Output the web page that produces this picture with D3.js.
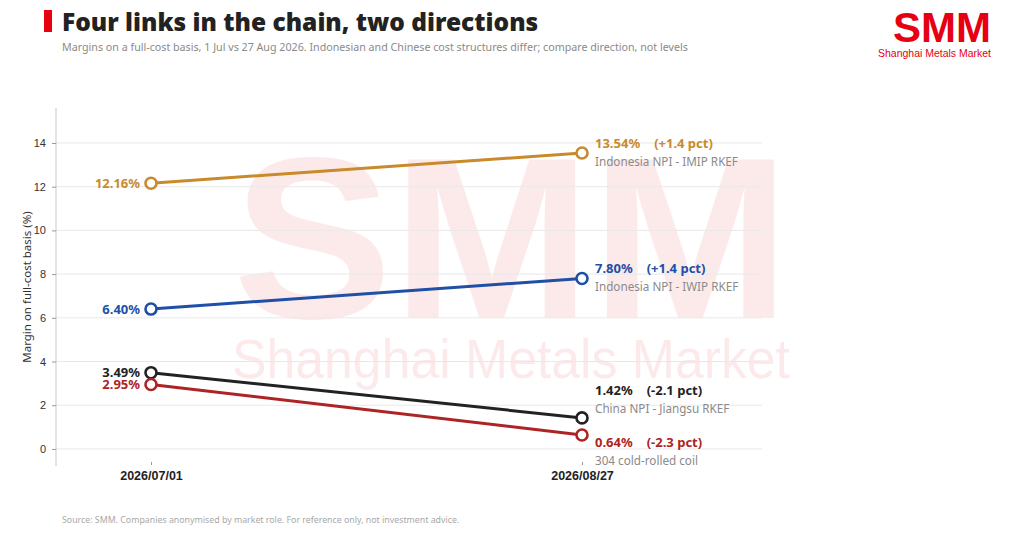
<!DOCTYPE html>
<html>
<head>
<meta charset="utf-8">
<script src="https://cdn.jsdelivr.net/npm/d3@7"></script>
<style>
  body { margin: 0; background: #fff; }
  svg { display: block; font-family: "Noto Sans", "DejaVu Sans", sans-serif; }
</style>
</head>
<body>
<svg id="drawing_region"></svg>
<script>
// chart data
var dates = ["2026/07/01", "2026/08/27"];
var seriesNames = ["Indonesia NPI - IMIP RKEF", "Indonesia NPI - IWIP RKEF", "China NPI - Jiangsu RKEF", "304 cold-rolled coil"];
var startValues = [12.16, 6.40, 3.49, 2.95];
var endValues = [13.54, 7.80, 1.42, 0.64];
var changeLabels = ["+1.4 pct", "+1.4 pct", "-2.1 pct", "-2.3 pct"];
var yTicks = [0, 2, 4, 6, 8, 10, 12, 14];
var colors = ["#c98a2b", "#1f4fa6", "#222222", "#ad2424"];

var width = 1024, height = 542;
var margin = { top: 108, right: 262, bottom: 76, left: 56 };

var svg = d3.select("#drawing_region")
    .attr("width", width)
    .attr("height", height);

// watermark
var wm = svg.append("g").attr("fill", "#e60012").attr("opacity", 0.08);
wm.append("text")
    .attr("x", 233).attr("y", 318)
    .attr("textLength", 557).attr("lengthAdjust", "spacingAndGlyphs")
    .style("font-family", "'Liberation Sans', Arial, sans-serif")
    .style("font-weight", 700)
    .style("font-size", "230px")
    .text("SMM");
wm.append("text")
    .attr("x", 232).attr("y", 378)
    .attr("textLength", 558).attr("lengthAdjust", "spacingAndGlyphs")
    .style("font-family", "'Liberation Sans', Arial, sans-serif")
    .style("font-size", "56px")
    .text("Shanghai Metals Market");

// header
svg.append("rect").attr("x", 44).attr("y", 10).attr("width", 8).attr("height", 22).attr("fill", "#e60012");
svg.append("text")
    .attr("x", 62).attr("y", 31)
    .style("font-size", "24.5px").style("font-weight", 900).attr("fill", "#222")
    .text("Four links in the chain, two directions");
svg.append("text")
    .attr("x", 62).attr("y", 51)
    .style("font-size", "10.7px").attr("fill", "#8a8a8a")
    .text("Margins on a full-cost basis, 1 Jul vs 27 Aug 2026. Indonesian and Chinese cost structures differ; compare direction, not levels");

// logo
svg.append("text")
    .attr("x", 893).attr("y", 42)
    .attr("textLength", 98).attr("lengthAdjust", "spacingAndGlyphs")
    .style("font-family", "'Liberation Sans', Arial, sans-serif")
    .style("font-weight", 700)
    .style("font-size", "42px").attr("fill", "#e60012")
    .text("SMM");
svg.append("text")
    .attr("x", 878).attr("y", 57)
    .attr("textLength", 113).attr("lengthAdjust", "spacingAndGlyphs")
    .style("font-family", "'Liberation Sans', Arial, sans-serif")
    .style("font-size", "11.5px").attr("fill", "#e60012")
    .text("Shanghai Metals Market");

// scales
var plotRight = width - margin.right;
var x = d3.scalePoint().domain(dates).range([151, 582]);
var y = d3.scaleLinear().domain([-0.78, 15.6]).range([height - margin.bottom, margin.top]);

// grid
svg.append("g")
    .selectAll("line")
    .data(yTicks)
    .join("line")
    .attr("x1", margin.left).attr("x2", plotRight)
    .attr("y1", d => y(d)).attr("y2", d => y(d))
    .attr("stroke", "#e8e8e8").attr("stroke-width", 1);

// y axis
var yAxis = svg.append("g")
    .attr("transform", `translate(${margin.left},0)`)
    .call(d3.axisLeft(y).tickValues(yTicks).tickSize(4).tickPadding(6));
yAxis.select(".domain").attr("stroke", "#c8c8c8").attr("d", `M0,${y.range()[0]}V${y.range()[1]}`);
yAxis.selectAll(".tick line").attr("stroke", "#999");
yAxis.selectAll(".tick text").attr("fill", "#333").style("font-size", "11px");

svg.append("text")
    .attr("transform", `translate(31,${(margin.top + height - margin.bottom) / 2}) rotate(-90)`)
    .attr("text-anchor", "middle")
    .style("font-size", "11.5px").attr("fill", "#333")
    .text("Margin on full-cost basis (%)");

// x axis
var xAxis = svg.append("g")
    .attr("transform", `translate(0,${height - margin.bottom - 4})`)
    .call(d3.axisBottom(x).tickSize(3).tickPadding(6));
xAxis.select(".domain").remove();
xAxis.selectAll(".tick line").attr("stroke", "#999");
xAxis.selectAll(".tick text").attr("fill", "#222").style("font-size", "12.5px").style("font-weight", 700);

// series
var series = seriesNames.map((name, i) => ({
    name: name,
    color: colors[i],
    change: changeLabels[i],
    values: [startValues[i], endValues[i]]
}));

var line = d3.line().x((d, j) => x(dates[j])).y(d => y(d));

var g = svg.append("g");
g.selectAll("path.series")
    .data(series)
    .join("path")
    .attr("class", "series")
    .attr("d", d => line(d.values))
    .attr("fill", "none")
    .attr("stroke", d => d.color)
    .attr("stroke-width", 3);

series.forEach(s => {
    g.selectAll(null)
        .data(s.values)
        .join("circle")
        .attr("cx", (d, j) => x(dates[j]))
        .attr("cy", d => y(d))
        .attr("r", 5.5)
        .attr("fill", "#fff")
        .attr("stroke", s.color)
        .attr("stroke-width", 2.6);
});

// left value labels
g.selectAll("text.start")
    .data(series)
    .join("text")
    .attr("class", "start")
    .attr("x", x(dates[0]) - 11)
    .attr("y", d => y(d.values[0]))
    .attr("dy", "0.36em")
    .attr("text-anchor", "end")
    .style("font-size", "13px").style("font-weight", 700)
    .attr("fill", d => d.color)
    .text(d => d.values[0].toFixed(2) + "%");

// right labels with simple collision avoidance
var blocks = series.map(s => ({ s: s, c: y(s.values[1]) - 1 }));
var minGap = 52;
for (var iter = 0; iter < 20; iter++) {
    blocks.sort((a, b) => a.c - b.c);
    for (var k = 1; k < blocks.length; k++) {
        var overlap = minGap - (blocks[k].c - blocks[k - 1].c);
        if (overlap > 0) {
            blocks[k - 1].c -= overlap / 2;
            blocks[k].c += overlap / 2;
        }
    }
}

var rl = g.selectAll("g.rlabel")
    .data(blocks)
    .join("g")
    .attr("class", "rlabel")
    .attr("transform", d => `translate(${x(dates[1]) + 13},${d.c})`);

var vt = rl.append("text")
    .attr("y", -4)
    .style("font-size", "13px").style("font-weight", 700)
    .attr("fill", d => d.s.color);
vt.append("tspan").text(d => d.s.values[1].toFixed(2) + "%");
vt.append("tspan").attr("dx", 14).text(d => "(" + d.s.change + ")");

rl.append("text")
    .attr("y", 14)
    .style("font-size", "11.7px")
    .attr("fill", "#8a8a8a")
    .text(d => d.s.name);

// footer
svg.append("text")
    .attr("x", 62).attr("y", 523)
    .style("font-size", "8.8px").attr("fill", "#a8a8a8")
    .text("Source: SMM. Companies anonymised by market role. For reference only, not investment advice.");
</script>
</body>
</html>
